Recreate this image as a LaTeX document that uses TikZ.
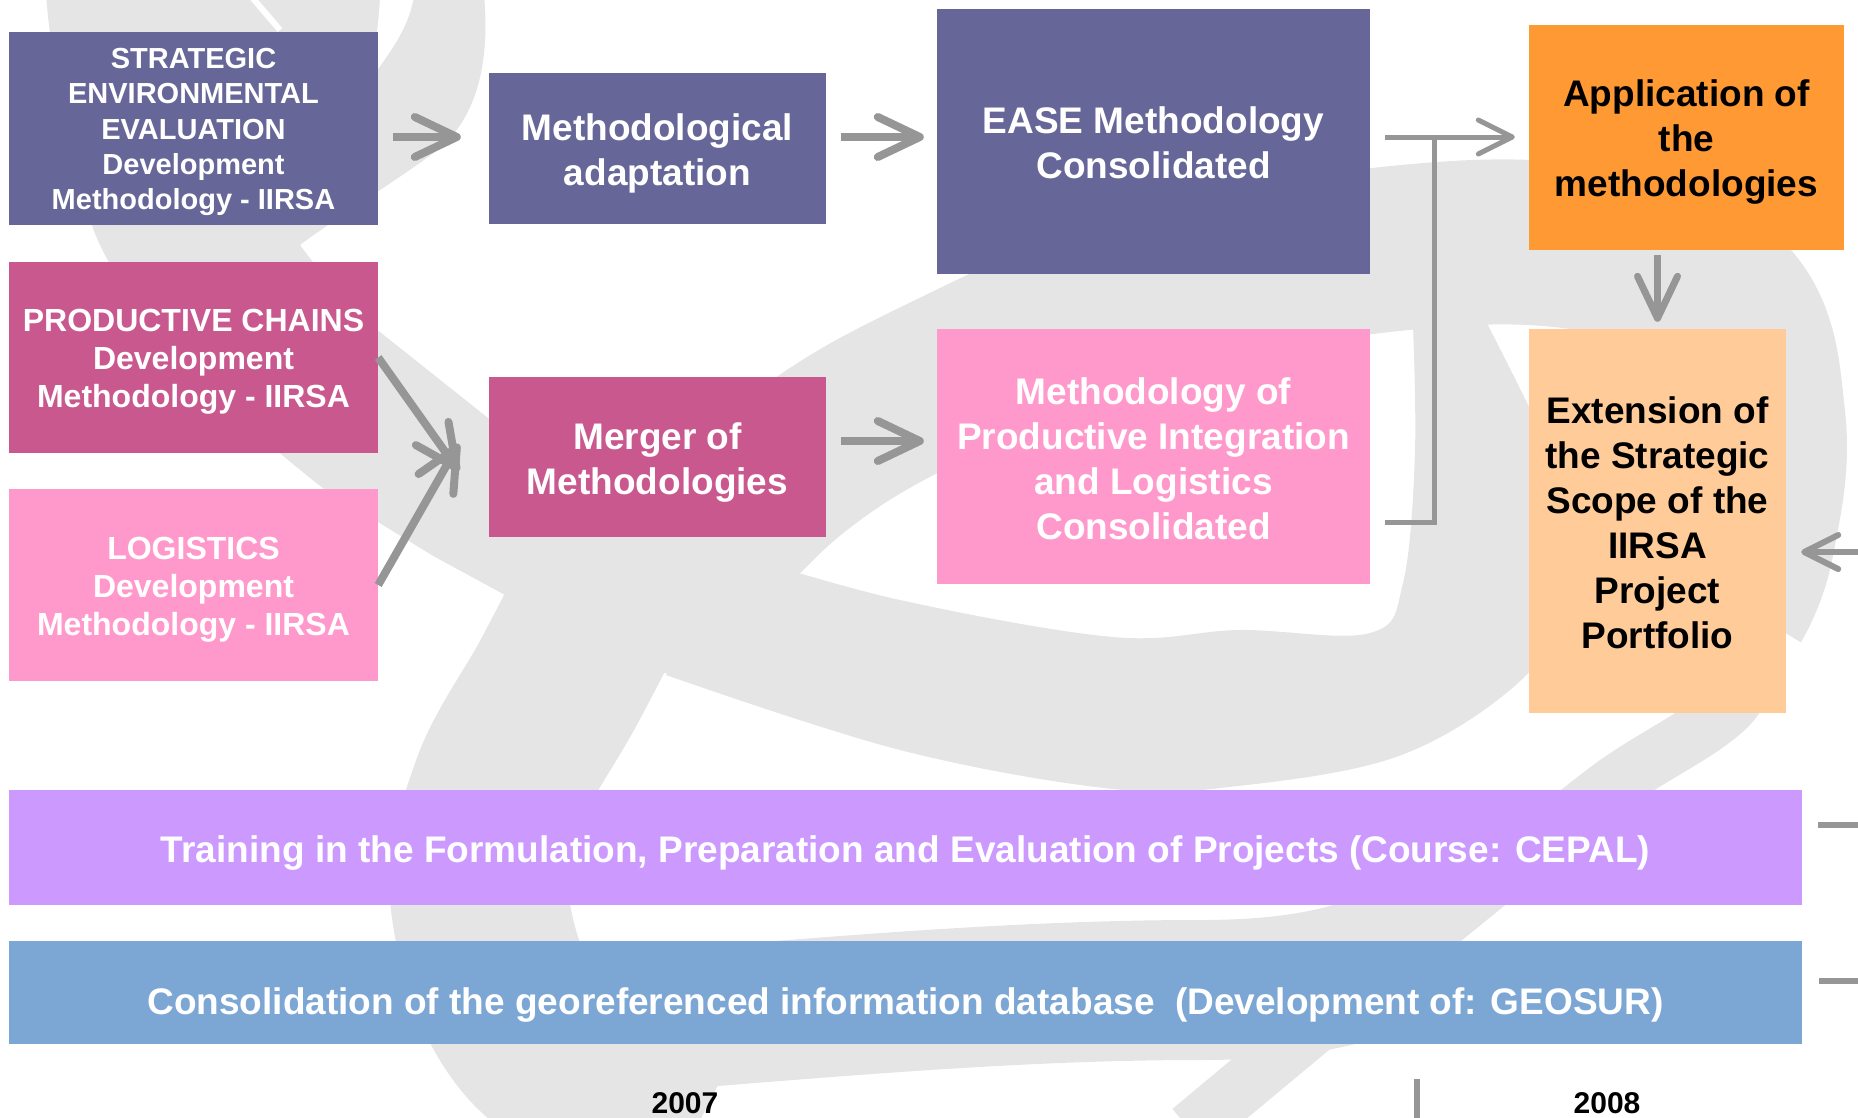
\documentclass[tikz,border=0pt]{standalone}
\usepackage{fontspec}
\setmainfont{Liberation Sans}
\usetikzlibrary{arrows.meta}
\definecolor{cPurple}{RGB}{102,102,153}
\definecolor{cMagenta}{RGB}{201,88,142}
\definecolor{cPink}{RGB}{255,153,204}
\definecolor{cOrange}{RGB}{255,153,51}
\definecolor{cPeach}{RGB}{255,204,153}
\definecolor{cLavender}{RGB}{204,153,255}
\definecolor{cBlue}{RGB}{124,167,212}
\definecolor{cArrow}{RGB}{150,150,150}
\definecolor{cBg}{RGB}{229,229,229}
\newcommand{\boxtext}[2]{\raisebox{-#1}[\height][\depth]{\begin{tabular}{@{}c@{}}#2\end{tabular}}}
\tikzset{
  box/.style={inner sep=0pt, text=white, font=\bfseries\fontsize{37}{45}\selectfont},
  arr/.style={draw=cArrow, line width=8pt, -{Straight Barb[length=42pt,width=40pt,round]}},
  thinarr/.style={draw=cArrow, line width=5pt, -{Straight Barb[length=34pt,width=34pt,round]}},
  conn/.style={draw=cArrow, line width=5pt},
  bgband/.style={draw=cBg},
}
\begin{document}
\begin{tikzpicture}[x=1pt,y=-1pt]
\useasboundingbox (0,0) rectangle (1858,1117);
% ---------- background swirl ----------
\begin{scope}
\clip (0,0) rectangle (1858,1117);
\fill[cBg] (46,-5) -- (484,-5) .. controls (490,60) and (478,115) .. (440,148)
  .. controls (410,172) and (340,215) .. (300,245)
  .. controls (330,285) and (350,310) .. (380,332) -- (610,515) -- (650,580)
  -- (518,602) -- (435,557) -- (324,489)
  .. controls (210,400) and (115,300) .. (89,217)
  .. controls (70,150) and (52,70) .. (46,-5) -- cycle;
\fill[white] (380,-5) .. controls (379,30) and (372,60) .. (372,77)
  .. controls (392,50) and (410,25) .. (414,-5) -- cycle;
\draw[white, line width=6pt] (250,-5) -- (280,30);
\draw[bgband, line width=178pt] plot[smooth, tension=0.6] coordinates {(625,555) (560,680) (500,790) (480,905) (535,1040) (690,1140)};
\draw[bgband, line width=140pt] (600,1025) .. controls (800,1010) and (1000,990) .. (1200,990) .. controls (1300,990) and (1380,975) .. (1440,930);
\draw[bgband, line width=165pt] plot[smooth, tension=0.7] coordinates {(660,610) (790,470) (960,370) (1150,295) (1400,248) (1600,250) (1725,300) (1763,420) (1752,540) (1730,600)};
\draw[bgband, line width=55pt] plot[smooth] coordinates {(1765,580) (1735,700) (1607,789) (1420,939) (1190,1130)};
\fill[cBg] plot[smooth, tension=0.6] coordinates {(1412,300) (1415,450) (1403,583) (1370,633) (1239,630) (1113,637) (900,600) (740,555)}
  -- plot[smooth, tension=0.6] coordinates {(666,675) (900,750) (1113,789) (1238,786) (1396,757) (1510,690) (1560,620) (1575,520) (1540,430) (1475,300)} -- cycle;
\fill[cBg] (640,540) -- (780,565) -- (700,680) -- (600,660) -- cycle;
\end{scope}
% ---------- boxes ----------
\node[box, fill=cPurple, minimum width=369pt, minimum height=193pt, font=\bfseries\fontsize{29}{35.3}\selectfont] (see) at (193.5,128.5)
  {\boxtext{3.5pt}{STRATEGIC\\ENVIRONMENTAL\\EVALUATION\\Development\\Methodology - IIRSA}};
\node[box, fill=cMagenta, minimum width=369pt, minimum height=191pt, font=\bfseries\fontsize{32}{38}\selectfont] (pc) at (193.5,357.5)
  {\boxtext{4.5pt}{PRODUCTIVE CHAINS\\Development\\Methodology - IIRSA}};
\node[box, fill=cPink, minimum width=369pt, minimum height=192pt, font=\bfseries\fontsize{32}{38}\selectfont] (logi) at (193.5,585)
  {\boxtext{5pt}{LOGISTICS\\Development\\Methodology - IIRSA}};
\node[box, fill=cPurple, minimum width=337pt, minimum height=151pt] (adapt) at (657.5,148.5)
  {\boxtext{5pt}{Methodological\\adaptation}};
\node[box, fill=cMagenta, minimum width=337pt, minimum height=160pt] (merger) at (657.5,457)
  {\boxtext{5.5pt}{Merger of\\Methodologies}};
\node[box, fill=cPurple, minimum width=433pt, minimum height=265pt] (ease) at (1153.5,141.5)
  {\boxtext{5pt}{EASE Methodology\\Consolidated}};
\node[box, fill=cPink, minimum width=433pt, minimum height=255pt] (pil) at (1153.5,456.5)
  {\boxtext{6pt}{Methodology of\\Productive Integration\\and Logistics\\Consolidated}};
\node[box, fill=cOrange, text=black, minimum width=315pt, minimum height=225pt] (appl) at (1686.5,137.5)
  {\boxtext{4.5pt}{Application of\\the\\methodologies}};
\node[box, fill=cPeach, text=black, minimum width=257pt, minimum height=384pt] (ext) at (1657.5,521)
  {\boxtext{5.5pt}{Extension of\\the Strategic\\Scope of the\\IIRSA\\Project\\Portfolio}};
\node[box, fill=cLavender, minimum width=1793pt, minimum height=115pt] (train) at (905.5,847.5)
  {\boxtext{5.75pt}{Training in the Formulation, Preparation and Evaluation of Projects (Course: CEPAL)}};
\node[box, fill=cBlue, minimum width=1793pt, minimum height=103pt] (geo) at (905.5,992.5)
  {\boxtext{12.75pt}{Consolidation of the georeferenced information database\hspace{0.55em}(Development of: GEOSUR)}};
\node[font=\bfseries\fontsize{30}{36}\selectfont, inner sep=0pt] (y2007) at (685,1103) {2007};
\node[font=\bfseries\fontsize{30}{36}\selectfont, inner sep=0pt] (y2008) at (1607,1103) {2008};
% ---------- connectors ----------
\coordinate (r1) at (0,137);
\coordinate (r2) at (0,441);
\coordinate (bx) at (1434,137);
\coordinate (by) at (1385,522);
\coordinate (rin) at (1858,552);
\coordinate (d1) at (1818,825);
\coordinate (d1e) at (1858,825);
\coordinate (d2) at (1819,981);
\coordinate (d2e) at (1858,981);
\coordinate (tk) at (1417,1079);
\coordinate (tke) at (1417,1120);
\draw[arr, shorten <=15pt, shorten >=28pt] (see.east |- r1) -- (adapt.west |- r1);
\draw[arr, shorten <=15pt, shorten >=13pt] (adapt.east |- r1) -- (ease.west |- r1);
\draw[arr, shorten <=15pt, shorten >=13pt] (merger.east |- r2) -- (pil.west |- r2);
\draw[arr] (pc.east) -- ([xshift=-30pt,yshift=-14pt]merger.west);
\draw[arr] (logi.east) -- ([xshift=-30pt,yshift=13pt]merger.west);
\draw[thinarr, shorten <=15pt, shorten >=14pt] (ease.east |- r1) -- (appl.west |- r1);
\draw[conn] (bx) |- (by);
\draw[arr, line width=7pt, shorten <=5pt, shorten >=7pt] (ext.north |- appl.south) -- (ext.north);
\draw[thinarr, line width=6pt, shorten >=15pt] (rin) -- (ext.east |- rin);
\draw[conn, line width=6pt] (d1) -- (d1e);
\draw[conn, line width=6pt] (d2) -- (d2e);
\draw[conn, line width=6pt] (tk) -- (tke);
\end{tikzpicture}
\end{document}
